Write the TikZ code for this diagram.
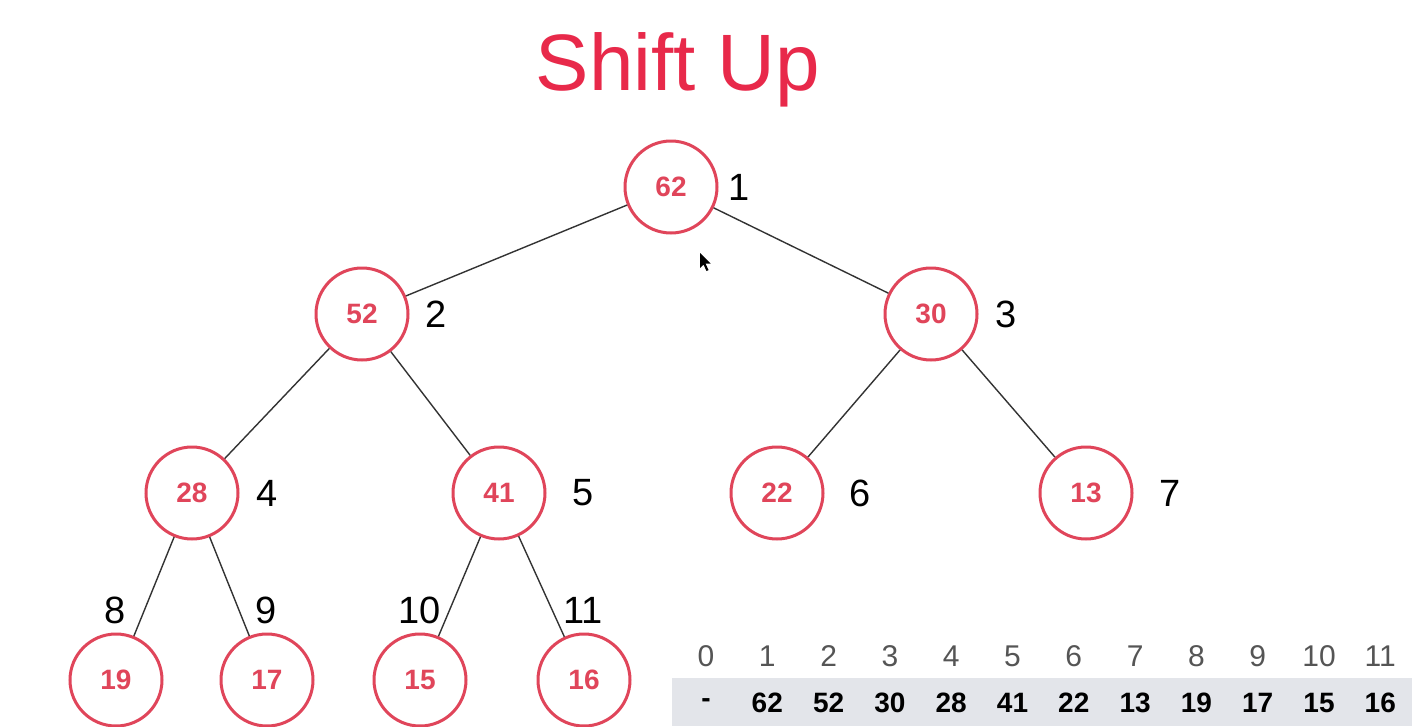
\documentclass[tikz,border=0pt]{standalone}
\usepackage{fontspec}
\setmainfont{Liberation Sans}
\definecolor{heapred}{HTML}{E0455A}
\definecolor{titlered}{HTML}{E8294A}
\definecolor{barbg}{HTML}{E3E5EA}
\definecolor{idxgray}{HTML}{555555}
\begin{document}
\begin{tikzpicture}[x=1pt,y=-1pt,
  hnode/.style={circle,draw=heapred,line width=3pt,minimum size=92pt,inner sep=0pt,
    text=heapred,font=\fontsize{28}{32}\selectfont\bfseries},
  lbl/.style={font=\fontsize{38}{44}\selectfont,text=black},
  edge/.style={draw=black!80,line width=1.4pt},
  idx/.style={font=\fontsize{30}{34}\selectfont,text=idxgray},
  val/.style={font=\fontsize{28}{32}\selectfont\bfseries,text=black}]
\useasboundingbox (0,0) rectangle (1424,726);
\fill[white] (0,0) rectangle (1424,726);
% title
\node[text=titlered,font=\fontsize{80}{90}\selectfont] (title) at (678,70) {Shift Up};
% nodes
\node[hnode] (n1) at (671,187) {62};
\node[hnode] (n2) at (362,314) {52};
\node[hnode] (n3) at (931,314) {30};
\node[hnode] (n4) at (192,493) {28};
\node[hnode] (n5) at (499,493) {41};
\node[hnode] (n6) at (777,493) {22};
\node[hnode] (n7) at (1086,493) {13};
\node[hnode] (n8) at (116,680) {19};
\node[hnode] (n9) at (267,680) {17};
\node[hnode] (n10) at (420,680) {15};
\node[hnode] (n11) at (584,680) {16};
% edges
\draw[edge] (n1) -- (n2);
\draw[edge] (n1) -- (n3);
\draw[edge] (n2) -- (n4);
\draw[edge] (n2) -- (n5);
\draw[edge] (n3) -- (n6);
\draw[edge] (n3) -- (n7);
\draw[edge] (n4) -- (n8);
\draw[edge] (n4) -- (n9);
\draw[edge] (n5) -- (n10);
\draw[edge] (n5) -- (n11);
% index labels
\node[lbl] (l1) at (739,187) {1};
\node[lbl] (l2) at (436,314) {2};
\node[lbl] (l3) at (1006,314) {3};
\node[lbl] (l4) at (267,493) {4};
\node[lbl] (l5) at (583,493) {5};
\node[lbl] (l6) at (860,493) {6};
\node[lbl] (l7) at (1170,493) {7};
\node[lbl] (l8) at (115,610) {8};
\node[lbl] (l9) at (266,610) {9};
\node[lbl] (l10) at (420,610) {10};
\node[lbl] (l11) at (583,610) {11};
% cursor
\fill[black] (700,253) -- (700,268) -- (703.5,264.5) -- (706.5,271) -- (708.5,270) -- (705.5,263.5) -- (710.5,263.5) -- cycle;
% table
\fill[barbg] (672,678) rectangle (1412,726);
\foreach \i/\v [count=\k from 0] in {0/-,1/62,2/52,3/30,4/28,5/41,6/22,7/13,8/19,9/17,10/15,11/16}{
  \node[idx] (i\k) at (706+61.3*\k,656) {\i};
  \node[val] (v\k) at (706+61.3*\k,703) {\v};
}
\end{tikzpicture}
\end{document}
